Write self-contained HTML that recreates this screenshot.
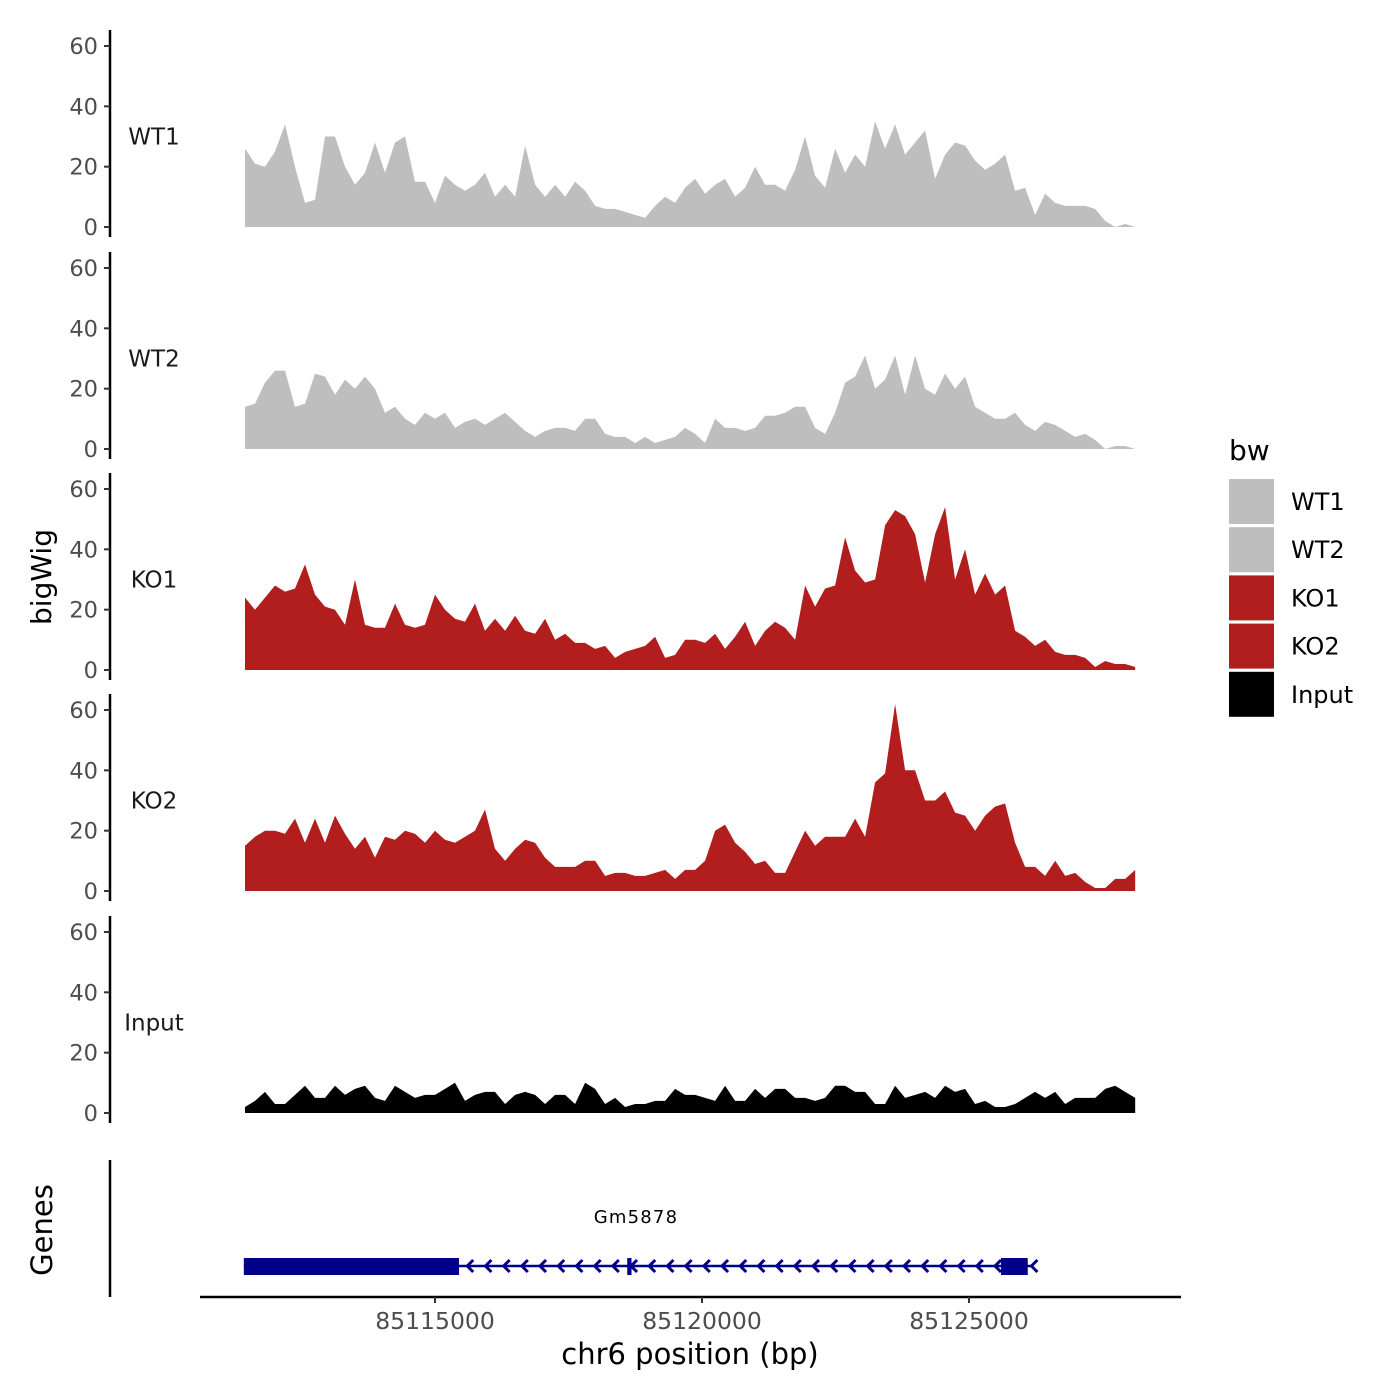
<!DOCTYPE html>
<html><head><meta charset="utf-8"><style>
html,body{margin:0;padding:0;background:#fff}
svg{display:block;font-family:"DejaVu Sans","Liberation Sans",sans-serif}
</style></head><body>
<svg id="chart" width="1400" height="1400" xmlns="http://www.w3.org/2000/svg">
<rect width="1400" height="1400" fill="#fff"/>
<g id="panels"></g>
<g id="genes"></g>
<g id="xaxis"></g>
<text x="51" y="577" font-size="28" fill="#000" text-anchor="middle" transform="rotate(-90 51 577)">bigWig</text>
<text x="52" y="1230" font-size="29" fill="#000" text-anchor="middle" transform="rotate(-90 52 1230)">Genes</text>
<text x="690" y="1364" font-size="29" fill="#000" text-anchor="middle">chr6 position (bp)</text>
<g id="legend"></g>
</svg>
<script>
const tracks = ["WT1","WT2","KO1","KO2","Input"];
const colors = ["#bebebe","#bebebe","#b21e1e","#b21e1e","#000000"];
const binStart = 85111442;
const binSize = 187.3;
const wt1 = [26,21,20,25,34,20,8,9,30,30,20,14,18,28,18,28,30,15,15,8,17,14,12,14,18,10,14,10,27,14,10,14,10,15,12,7,6,6,5,4,3,7,10,8,13,16,11,14,16,10,13,20,14,14,12,19,30,17,13,26,18,24,20,35,26,34,24,28,32,16,24,28,27,22,19,21,24,12,13,4,11,8,7,7,7,6,2,0,1,0];
const wt2 = [14,15,22,26,26,14,15,25,24,18,23,20,24,20,12,14,10,8,12,10,12,7,9,10,8,10,12,9,6,4,6,7,7,6,10,10,5,4,4,2,4,2,3,4,7,5,2,10,7,7,6,7,11,11,12,14,14,7,5,12,22,24,31,20,23,31,18,31,20,18,25,20,24,14,12,10,10,12,8,6,9,8,6,4,5,3,0,1,1,0];
const ko1 = [24,20,24,28,26,27,35,25,21,20,15,30,15,14,14,22,15,14,15,25,20,17,16,22,13,17,13,18,13,12,17,10,12,9,9,7,8,4,6,7,8,11,4,5,10,10,9,12,7,11,16,8,13,16,14,10,28,21,27,28,44,33,29,30,48,53,51,45,29,45,54,30,40,25,32,25,28,13,11,8,10,6,5,5,4,1,3,2,2,1];
const ko2 = [15,18,20,20,19,24,16,24,16,25,19,14,18,11,18,17,20,19,16,20,17,16,18,20,27,14,10,14,17,16,11,8,8,8,10,10,5,6,6,5,5,6,7,4,7,7,10,20,22,16,13,9,10,6,6,13,20,15,18,18,18,24,18,36,39,62,40,40,30,30,33,26,25,20,25,28,29,16,8,8,5,10,5,6,3,1,1,4,4,7];
const inputv = [2,4,7,3,3,6,9,5,5,9,6,8,9,5,4,9,7,5,6,6,8,10,4,6,7,7,3,6,7,6,3,6,6,3,10,8,3,5,2,3,3,4,4,8,6,6,5,4,9,4,4,8,5,8,8,5,5,4,5,9,9,7,7,3,3,9,5,6,7,5,9,7,8,3,4,2,2,3,5,7,5,7,3,5,5,5,8,9,7,5];
const series = [wt1,wt2,ko1,ko2,inputv];
const yTicks = [0,20,40,60];
const xTicks = [85115000,85120000,85125000];
const geneName = "Gm5878";
const geneStart = 85111420, geneEnd = 85126200;
const exons = [[85111420,85115450],[85118600,85118680],[85125600,85126100]];

const NS="http://www.w3.org/2000/svg";
function el(tag, attrs, parent){const e=document.createElementNS(NS,tag);for(const k in attrs)e.setAttribute(k,attrs[k]);parent.appendChild(e);return e;}
const xScale = bp => 435 + (bp-85115000)*267/5000;
const panelZero = [227,449,670,891,1113];
const pxPerUnit = 181/60;
const yScale = (p,v) => panelZero[p] - v*pxPerUnit;

const panels=document.getElementById('panels');
series.forEach((vals,p)=>{
  const g=el('g',{},panels);
  
  
  const ax=el('line',{x1:110,x2:110,y1:panelZero[p]+10,y2:panelZero[p]-197,stroke:'#000','stroke-width':2.5},g);
  
  
  yTicks.forEach(t=>{
    const y=yScale(p,t);
    const tk=el('line',{x1:104,x2:110,y1:y,y2:y,stroke:'#333','stroke-width':2},g);
    
    
    const tl=el('text',{x:98,y:y+8,'font-size':22.5,fill:'#4d4d4d','text-anchor':'end'},g);
    tl.textContent=t;
    
    
  });
  const lab=el('text',{x:154,y:yScale(p,30)+8,'font-size':23,fill:'#1a1a1a','text-anchor':'middle'},g);
  lab.textContent=tracks[p];
  
  
  let d='M'+xScale(binStart).toFixed(1)+','+panelZero[p];
  vals.forEach((v,i)=>{d+=' L'+xScale(binStart+i*binSize).toFixed(1)+','+yScale(p,v).toFixed(1);});
  d+=' L'+xScale(binStart+(vals.length-1)*binSize).toFixed(1)+','+panelZero[p]+' Z';
  const area=el('path',{d:d,fill:colors[p]},g);
  
  
});

const genes=document.getElementById('genes');
const gax=el('line',{x1:110,x2:110,y1:1160,y2:1297,stroke:'#000','stroke-width':2.5},genes);


const gl=el('line',{x1:xScale(geneStart),x2:xScale(geneEnd),y1:1266,y2:1266,stroke:'#00008b','stroke-width':2.5},genes);


for(let x=xScale(geneStart)+5;x<xScale(geneEnd);x+=18.2){
  const c=el('path',{d:`M${x+6},${1260} L${x},${1266} L${x+6},${1272}`,stroke:'#00008b','stroke-width':3,fill:'none'},genes);
  
  
}
exons.forEach(e=>{
  const r=el('rect',{x:xScale(e[0]),y:1258,width:Math.max(4,xScale(e[1])-xScale(e[0])),height:17,fill:'#00008b'},genes);
  
  
});
const gn=el('text',{x:636,y:1223,'font-size':18,fill:'#000','text-anchor':'middle','letter-spacing':1.2},genes);
gn.textContent=geneName;



const xa=document.getElementById('xaxis');
const xl=el('line',{x1:200,x2:1181,y1:1297,y2:1297,stroke:'#000','stroke-width':2.5},xa);


xTicks.forEach(t=>{
  const x=xScale(t);
  const tk=el('line',{x1:x,x2:x,y1:1297,y2:1303,stroke:'#333','stroke-width':2},xa);
  
  
  const tl=el('text',{x:x,y:1329,'font-size':23.5,fill:'#4d4d4d','text-anchor':'middle'},xa);
  tl.textContent=t;
  
  
});

const lg=document.getElementById('legend');
const lt=el('text',{x:1229,y:460,'font-size':28,fill:'#000'},lg);
lt.textContent='bw';


tracks.forEach((t,i)=>{
  const y=479+i*48.2;
  const k=el('rect',{x:1229,y:y,width:45,height:45,fill:colors[i]},lg);
  
  
  const tx=el('text',{x:1291,y:y+31,'font-size':24,fill:'#000'},lg);
  tx.textContent=t;
  
  
});
</script>
</body></html>
